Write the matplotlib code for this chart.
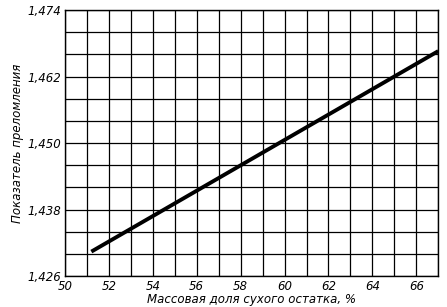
import numpy as np
import matplotlib.pyplot as plt

# данные
massovaya_dolya = [51.2, 67.0]
pokazatel = [1.4304, 1.4666]

x_ticks = [50, 52, 54, 56, 58, 60, 62, 64, 66]
y_ticks = [1.426, 1.438, 1.450, 1.462, 1.474]
y_labels = ['1,426', '1,438', '1,450', '1,462', '1,474']

fig = plt.figure(figsize=(4.47, 3.07), dpi=100)
ax = fig.add_axes([0.1454, 0.101, 0.835, 0.866])

ax.plot(massovaya_dolya, pokazatel, color='black', linewidth=2.8, solid_capstyle='butt')

ax.set_xlim(50, 67)
ax.set_ylim(1.426, 1.474)

# сетка: по x через 1, по y через 0.004
ax.set_xticks(np.arange(50, 68, 1), minor=True)
ax.set_yticks(np.arange(1.426, 1.4745, 0.004), minor=True)
ax.grid(True, which='minor', color='black', linewidth=0.9)
ax.grid(True, which='major', color='black', linewidth=0.9)

ax.set_xticks(x_ticks)
ax.set_xticklabels([str(v) for v in x_ticks])
ax.set_yticks(y_ticks)
ax.set_yticklabels(y_labels)
ax.tick_params(which='both', length=0, labelsize=8.5, pad=3)
for lbl in ax.get_xticklabels() + ax.get_yticklabels():
    lbl.set_style('italic')

for s in ax.spines.values():
    s.set_linewidth(1.0)

ax.set_xlabel('Массовая доля сухого остатка, %', fontsize=8.5, style='italic', labelpad=0)
ax.set_ylabel('Показатель преломления', fontsize=8.5, style='italic', labelpad=2)

plt.savefig('out.png', dpi=100)
